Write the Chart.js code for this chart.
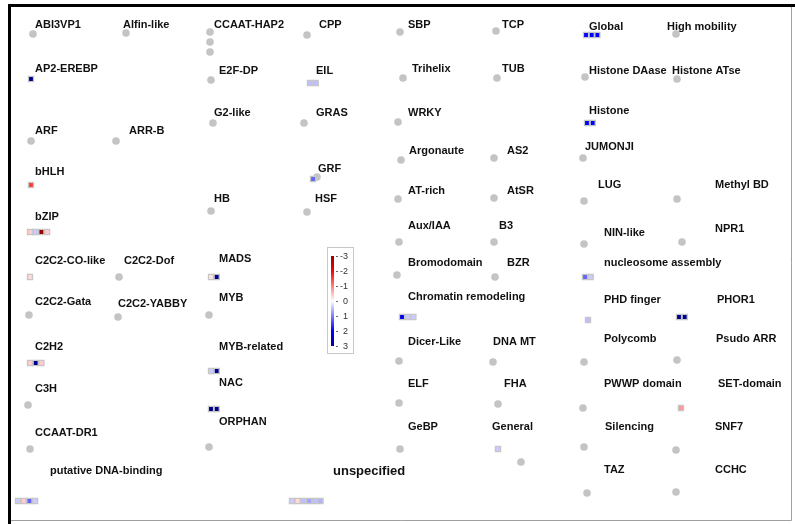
<!DOCTYPE html>
<html>
<head>
<meta charset="utf-8">
<script src="https://cdn.jsdelivr.net/npm/chart.js@4"></script>
<style>
  body { margin: 0; background: #fff; }
  canvas { display: block; }
</style>
</head>
<body>
<canvas id="myChart" width="795" height="524"></canvas>
<script>
// family names and where their label sits on the map
const families = ["ABI3VP1", "Alfin-like", "AP2-EREBP", "ARF", "ARR-B", "bHLH", "bZIP", "C2C2-CO-like", "C2C2-Dof",
    "C2C2-Gata", "C2C2-YABBY", "C2H2", "C3H", "CCAAT-DR1", "putative DNA-binding", "CCAAT-HAP2", "CPP", "E2F-DP", "EIL",
    "G2-like", "GRAS", "GRF", "HB", "HSF", "MADS", "MYB", "MYB-related", "NAC", "ORPHAN", "unspecified", "SBP", "TCP",
    "Trihelix", "TUB", "WRKY", "Argonaute", "AS2", "AT-rich", "AtSR", "Aux/IAA", "B3", "Bromodomain", "BZR",
    "Chromatin remodeling", "Dicer-Like", "DNA MT", "ELF", "FHA", "GeBP", "General", "Global", "High mobility",
    "Histone DAase", "Histone ATse", "Histone", "JUMONJI", "LUG", "Methyl BD", "NIN-like", "NPR1", "nucleosome assembly",
    "PHD finger", "PHOR1", "Polycomb", "Psudo ARR", "PWWP domain", "SET-domain", "Silencing", "SNF7", "TAZ", "CCHC"]
const labelX = [35, 123, 35, 35, 129, 35, 35, 35, 124, 35, 118, 35, 35, 35, 50, 214, 319, 219, 316, 214, 316, 318, 214, 315,
    219, 219, 219, 219, 219, 333, 408, 502, 412, 502, 408, 409, 507, 408, 507, 408, 499, 408, 507, 408, 408, 493, 408, 504,
    408, 492, 589, 667, 589, 672, 589, 585, 598, 715, 604, 715, 604, 604, 717, 604, 716, 604, 718, 605, 715, 604, 715]
const labelY = [25, 25, 69, 131, 131, 172, 217, 261, 261, 302, 304, 347, 389, 433, 471, 25, 25, 71, 71, 113, 113, 169, 199, 199,
    259, 298, 347, 383, 422, 471, 25, 25, 69, 69, 113, 151, 151, 191, 191, 226, 226, 263, 263, 297, 342, 342, 384, 384,
    427, 427, 27, 27, 71, 71, 111, 147, 185, 185, 233, 229, 263, 300, 300, 339, 339, 384, 384, 427, 427, 470, 470]

// families without measured genes (grey dots)
const dotX = [33, 126, 31, 116, 119, 29, 118, 28, 30, 210, 210, 210, 307, 211, 213, 304, 317, 211, 307, 209, 209, 400, 496,
    403, 497, 398, 401, 494, 398, 494, 399, 494, 397, 495, 399, 493, 399, 498, 400, 521, 676, 585, 677, 583, 584, 677,
    584, 682, 584, 677, 583, 584, 676, 587, 676]
const dotY = [34, 33, 141, 141, 277, 315, 317, 405, 449, 32, 42, 52, 35, 80, 123, 123, 177, 211, 212, 315, 447, 32, 31,
    78, 78, 122, 160, 158, 199, 198, 242, 242, 275, 277, 361, 362, 403, 404, 449, 462, 34, 77, 79, 158, 201, 199,
    244, 242, 362, 360, 408, 447, 450, 493, 492]

// families with genes: first cell position and log2 fold changes
const cellX = [31, 31, 30, 30, 30, 18, 310, 313, 211, 211, 211, 292, 402, 498, 586, 587, 585, 588, 679, 681]
const cellY = [79, 185, 232, 277, 363, 501, 83, 179, 277, 371, 409, 501, 317, 449, 35, 123, 277, 320, 317, 408]
const cellValues = [
    [3], [-1.5], [-0.4, 0.4, -3, -0.4], [-0.3], [-0.4, 3, -0.4], [0.4, -0.4, 1.2, 0.4],
    [0.5, 0.5], [1.2], [-0.2, 3], [0.4, 3], [3, 3], [0.4, -0.3, 0.5, 0.7, 0.5, 0.6],
    [2.2, 0.4, 0.4], [0.4], [2, 2, 2], [2, 2], [1.2, 0.4], [0.5], [3, 3], [-0.8]
]
const legendTicks = [-3, -2, -1, 0, 1, 2, 3]

function mix(a, b, t) {
    return a.map((v, i) => Math.round(v + (b[i] - v) * t))
}
function colorFor(v) {
    let t = Math.min(Math.abs(v) / 3, 1)
    let full = v < 0 ? [255, 0, 0] : [0, 0, 255]
    let deep = v < 0 ? [150, 0, 0] : [0, 0, 140]
    let c = t < 0.66 ? mix([255, 255, 255], full, t / 0.66) : mix(full, deep, (t - 0.66) / 0.34)
    return "rgb(" + c.join(",") + ")"
}

let step = 5.7
let cells = []
cellValues.forEach((vals, k) => {
    vals.forEach((v, i) => cells.push({ x: cellX[k] + i * step, y: cellY[k], v: v }))
})
let dots = dotX.map((x, i) => ({ x: x, y: dotY[i] }))

const mapDecor = {
    id: "mapDecor",
    beforeDraw(chart) {
        let ctx = chart.ctx
        ctx.save()
        ctx.fillStyle = "#fff"
        ctx.fillRect(0, 0, chart.width, chart.height)
        ctx.restore()
    },
    afterDatasetsDraw(chart) {
        let ctx = chart.ctx
        let sx = chart.scales.x, sy = chart.scales.y
        ctx.save()
        // frame
        ctx.fillStyle = "#000"
        ctx.fillRect(8, 4, 3, 520)
        ctx.fillRect(8, 4, 787, 3)
        ctx.strokeStyle = "#a0a0a0"
        ctx.lineWidth = 1
        ctx.beginPath()
        ctx.moveTo(791.5, 7); ctx.lineTo(791.5, 520.5); ctx.lineTo(11, 520.5)
        ctx.stroke()

        // labels
        ctx.fillStyle = "#111"
        ctx.textBaseline = "middle"
        ctx.textAlign = "left"
        families.forEach((name, i) => {
            ctx.font = name == "unspecified" ? "bold 13px 'Liberation Sans', Arial" : "bold 11px 'Liberation Sans', Arial"
            ctx.fillText(name, sx.getPixelForValue(labelX[i]), sy.getPixelForValue(labelY[i]))
        })

        // colour key
        let bx = sx.getPixelForValue(327), by = sy.getPixelForValue(247)
        ctx.strokeStyle = "#c8c8c8"
        ctx.strokeRect(bx + 0.5, by + 0.5, 26, 106)
        let top = by + 9, bottom = by + 99
        let g = ctx.createLinearGradient(0, top, 0, bottom)
        legendTicks.forEach((v, i) => g.addColorStop(i / (legendTicks.length - 1), colorFor(v)))
        ctx.fillStyle = g
        ctx.fillRect(bx + 4, top, 3, bottom - top)
        ctx.font = "9px 'Liberation Sans', Arial"
        ctx.textAlign = "right"
        legendTicks.forEach((v, i) => {
            let y = top + (bottom - top) * i / (legendTicks.length - 1)
            ctx.fillStyle = "#666"
            ctx.fillRect(bx + 9, Math.round(y), 2, 1)
            ctx.fillStyle = "#333"
            ctx.fillText(String(v), bx + 21, y + 0.5)
        })
        ctx.restore()
    }
}

new Chart("myChart", {
    type: "scatter",
    data: {
        datasets: [{
            data: cells,
            pointStyle: "rect",
            pointRadius: 3.6,
            borderWidth: 1.3,
            borderColor: "#c6c6c6",
            backgroundColor: (c) => c.raw ? colorFor(c.raw.v) : "#fff",
            order: 0
        }, {
            data: dots,
            pointStyle: "circle",
            pointRadius: 3.8,
            borderWidth: 0,
            backgroundColor: "#c4c4c4",
            order: 1
        }]
    },
    options: {
        responsive: false,
        animation: false,
        events: [],
        layout: { padding: 0, autoPadding: false },
        clip: false,
        scales: {
            x: { type: "linear", min: 0, max: 795, display: false },
            y: { type: "linear", min: 0, max: 524, reverse: true, display: false }
        },
        plugins: {
            legend: { display: false },
            tooltip: { enabled: false }
        }
    },
    plugins: [mapDecor]
});
</script>
</body>
</html>
